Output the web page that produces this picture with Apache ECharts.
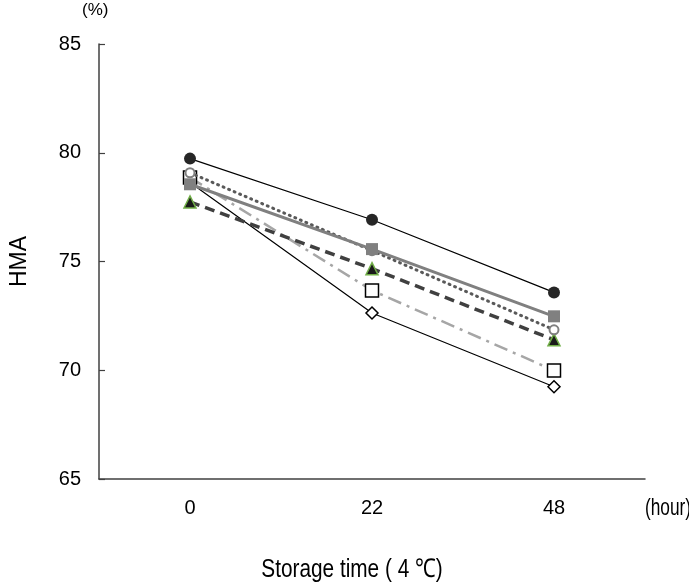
<!DOCTYPE html>
<html>
<head>
<meta charset="utf-8">
<script src="https://cdn.jsdelivr.net/npm/echarts@6/dist/echarts.min.js"></script>
<style>html,body{margin:0;padding:0;background:#fff;}#c{width:689px;height:587px;}</style>
</head>
<body>
<div id="c"></div>
<script>
const categories = ['0', '22', '48'];
const yTicks = { min: 65, max: 85, interval: 5 };
const sBlackCircle = [79.73, 76.92, 73.58];
const sGraySquare = [78.55, 75.57, 72.48];
const sDottedCircle = [79.08, 75.5, 71.86];
const sDashedTriangle = [77.74, 74.67, 71.40];
const sDashDotSquare = [78.86, 73.67, 69.99];
const sDiamond = [78.63, 72.63, 69.24];

const font = '"Liberation Sans", Arial, sans-serif';
const chart = echarts.init(document.getElementById('c'));

function mk(name, data, symbol, size, lineStyle, itemStyle, z) {
  return {
    name, type: 'line', data, symbol, symbolSize: size,
    lineStyle, itemStyle, z, animation: false, showSymbol: true
  };
}

chart.setOption({
  animation: false,
  backgroundColor: '#fff',
  grid: { left: 98, right: 44, top: 44, bottom: 108 },
  xAxis: {
    type: 'category', data: categories, boundaryGap: true,
    axisLine: { lineStyle: { color: '#404040', width: 1.5 } },
    axisTick: { inside: true, alignWithLabel: true, length: 5, lineStyle: { color: '#404040', width: 1.2 } },
    axisLabel: { fontFamily: font, fontSize: 20, color: '#000', margin: 19 }
  },
  yAxis: {
    type: 'value', min: yTicks.min, max: yTicks.max, interval: yTicks.interval,
    axisLine: { show: true, lineStyle: { color: '#404040', width: 1.5 } },
    axisTick: { show: true, inside: true, length: 6, lineStyle: { color: '#404040', width: 1.2 } },
    axisLabel: { fontFamily: font, fontSize: 20, color: '#000', margin: 18 },
    splitLine: { show: false },
    name: 'HMA', nameLocation: 'middle', nameGap: 68,
    nameTextStyle: { fontFamily: font, fontSize: 23, color: '#000' }
  },
  graphic: [
    { type: 'text', left: 82, top: 2, style: { text: '(%)', font: '17px ' + font, fill: '#000' } },
    { type: 'text', x: 645, y: 508, scaleX: 0.72,
      style: { text: '(hour)', font: '24px ' + font, fill: '#000', textAlign: 'left', textVerticalAlign: 'middle' } },
    { type: 'text', x: 352, y: 570, scaleX: 0.8,
      style: { text: 'Storage time ( 4 ℃)', font: '26px ' + font, fill: '#000', textAlign: 'center', textVerticalAlign: 'middle' } }
  ],
  series: [
    mk('diamond', sDiamond, 'diamond', 12,
      { color: '#000', width: 1.2 }, { color: '#fff', borderColor: '#000', borderWidth: 1.5 }, 2),
    mk('dashdot', sDashDotSquare, 'rect', 13,
      { color: '#a6a6a6', width: 2.5, type: [14, 6, 3, 6] }, { color: '#fff', borderColor: '#000', borderWidth: 1.5 }, 3),
    mk('dashed', sDashedTriangle, 'triangle', 12,
      { color: '#404040', width: 3.5, type: [10, 6] }, { color: '#1a1a1a', borderColor: '#70ad47', borderWidth: 1.5 }, 4),
    mk('dotted', sDottedCircle, 'circle', 9,
      { color: '#595959', width: 3, type: [1, 5], cap: 'round' }, { color: '#fff', borderColor: '#808080', borderWidth: 2 }, 5),
    mk('graysq', sGraySquare, 'rect', 12,
      { color: '#808080', width: 3 }, { color: '#808080', borderColor: '#808080', borderWidth: 0 }, 6),
    mk('blackc', sBlackCircle, 'circle', 12,
      { color: '#000', width: 1.2 }, { color: '#262626', borderColor: '#262626', borderWidth: 0 }, 7)
  ]
});
</script>
</body>
</html>
